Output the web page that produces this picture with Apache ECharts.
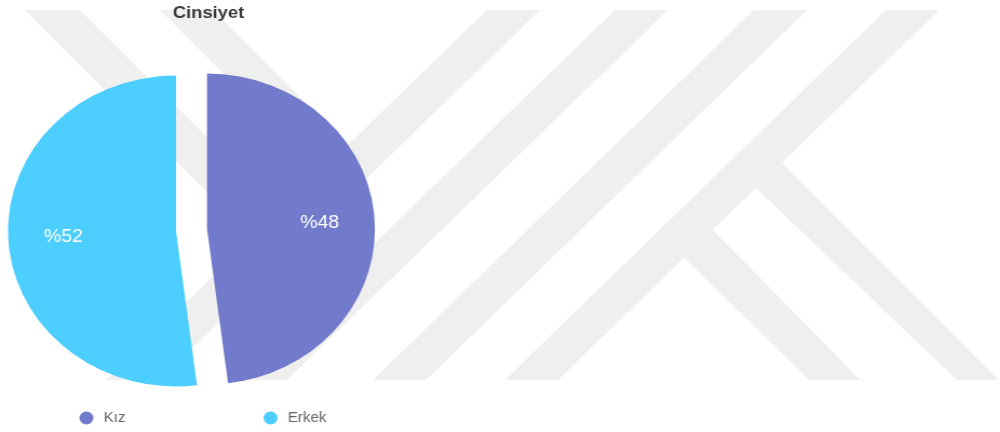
<!DOCTYPE html>
<html><head><meta charset="utf-8">
<script src="https://cdn.jsdelivr.net/npm/echarts@6/dist/echarts.min.js"></script>
<style>
html,body{margin:0;padding:0;background:#fff;overflow:hidden}
#c{width:926px;height:432px;transform:scaleX(1.08);transform-origin:0 0;}
</style>
</head><body><div id="c"></div>
<script>
// ---- data ----
const chartTitle = 'Cinsiyet';
const categories = ['Kız', 'Erkek'];
const values = [48, 52];
const colors = ['#717acb', '#4ccefe'];

// ---- layout / style ----
const STRETCH = 1.08;           // reference pie is slightly wider than tall
const FONT = 'Liberation Sans, Arial, Helvetica, sans-serif';
const R = 155.5;
const CENTER = [177.3, 230];
const OFFSET = 14.4;
const LABEL_PAD = [[2, 0, 0, 0], [11, 0, 0, 0]];

// background watermark (decoration, in page pixels)
const watermark = [
  [[25,10],[80,10],[343,273],[342,327]],
  [[160,10],[213,10],[348,145],[347,197]],
  [[487,10],[540,10],[159,380],[106,380]],
  [[615,10],[668,10],[287,380],[234,380]],
  [[754,10],[807,10],[426,380],[373,380]],
  [[886,10],[939,10],[558,380],[505,380]],
  [[684,257],[713,230],[860,380],[809,380]],
  [[756,188],[782,163],[999,380],[957,380]]
];

const pieData = categories.map((n, i) => ({ name: n, value: values[i], selected: true, itemStyle: { color: colors[i] } }));

const chart = echarts.init(document.getElementById('c'), null, { renderer: 'canvas' });
chart.setOption({
  animation: false,
  backgroundColor: '#ffffff',
  title: {
    text: chartTitle, left: 160, top: 5, padding: 0,
    textStyle: { fontFamily: FONT, fontSize: 17, fontWeight: 'bold', color: '#3a3a3a' }
  },
  graphic: [{
    type: 'group', scaleX: 1 / STRETCH, z: -10, silent: true,
    children: watermark.map(p => ({ type: 'polygon', z: -10, silent: true, shape: { points: p }, style: { fill: '#efefef' } }))
  }],
  legend: categories.map((n, i) => ({
    data: [n], left: [73.5, 244][i], top: 411, padding: 0, icon: 'circle',
    itemWidth: 22, itemHeight: 13, selectedMode: false,
    textStyle: { fontFamily: FONT, fontSize: 14, color: '#666' }
  })),
  series: [{
    type: 'pie', name: chartTitle, center: CENTER, radius: R, startAngle: 90, clockwise: true,
    selectedMode: 'multiple', selectedOffset: OFFSET, avoidLabelOverlap: false,
    label: { show: false }, labelLine: { show: false },
    emphasis: { disabled: true }, silent: true,
    data: pieData
  }, {
    type: 'pie', name: 'labels', center: CENTER, radius: R * 1.305, startAngle: 90, clockwise: true,
    selectedMode: 'multiple', selectedOffset: OFFSET, avoidLabelOverlap: false, z: 3,
    itemStyle: { color: 'rgba(0,0,0,0)' },
    label: { show: true, position: 'inside', formatter: p => '%' + p.value, fontFamily: FONT, fontSize: 18, color: '#ffffff' },
    labelLine: { show: false }, emphasis: { disabled: true }, silent: true,
    data: categories.map((n, i) => ({ name: n, value: values[i], selected: true,
      itemStyle: { color: 'rgba(0,0,0,0)' }, label: { padding: LABEL_PAD[i] } }))
  }]
});
</script>
</body></html>
